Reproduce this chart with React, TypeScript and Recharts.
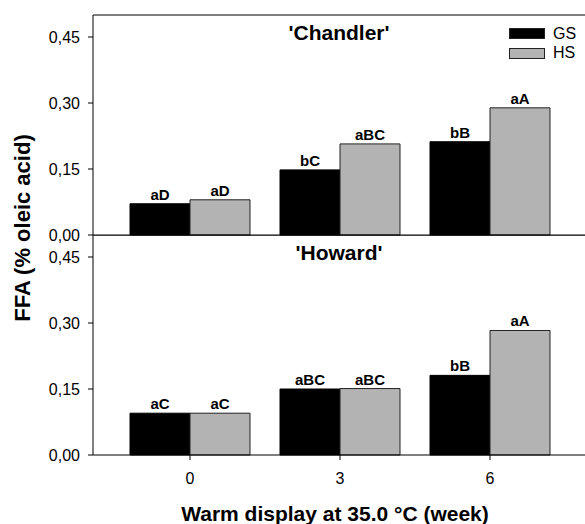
import {
  BarChart,
  Bar,
  XAxis,
  YAxis,
  LabelList,
  Legend,
  ReferenceLine,
} from "recharts";

const weeks = ["0", "3", "6"];
const chandlerGS = [0.071, 0.148, 0.212];
const chandlerHS = [0.08, 0.207, 0.289];
const howardGS = [0.095, 0.15, 0.181];
const howardHS = [0.095, 0.151, 0.283];
const chandlerGSLetters = ["aD", "bC", "bB"];
const chandlerHSLetters = ["aD", "aBC", "aA"];
const howardGSLetters = ["aC", "aBC", "bB"];
const howardHSLetters = ["aC", "aBC", "aA"];
const yTicks = [0, 0.15, 0.3, 0.45];

const FONT = "Arial, 'Liberation Sans', sans-serif";
const GRAY = "#b3b3b3";

const chandlerData = weeks.map((w, i) => ({
  week: w,
  GS: chandlerGS[i],
  HS: chandlerHS[i],
  gsLetter: chandlerGSLetters[i],
  hsLetter: chandlerHSLetters[i],
}));

const howardData = weeks.map((w, i) => ({
  week: w,
  GS: howardGS[i],
  HS: howardHS[i],
  gsLetter: howardGSLetters[i],
  hsLetter: howardHSLetters[i],
}));

const fmt = (v: number) => v.toFixed(2).replace(".", ",");

const labelStyle = { fontSize: 15, fontWeight: 700, fontFamily: FONT, fill: "#000" };

function LegendBox() {
  const rows = [
    { name: "GS", fill: "#000" },
    { name: "HS", fill: GRAY },
  ];
  return (
    <div style={{ fontFamily: FONT, fontSize: 16, color: "#000" }}>
      {rows.map((r) => (
        <div key={r.name} style={{ display: "flex", alignItems: "center", height: 19.5 }}>
          <span
            style={{
              display: "inline-block",
              width: 34,
              height: 9,
              background: r.fill,
              border: "1px solid #222",
              marginRight: 8,
            }}
          />
          <span>{r.name}</span>
        </div>
      ))}
    </div>
  );
}

function Panel({
  data,
  title,
  bottom,
}: {
  data: typeof chandlerData;
  title: string;
  bottom: boolean;
}) {
  return (
    <BarChart
      width={585}
      height={bottom ? 289 : 255}
      data={data}
      margin={{ top: bottom ? 0 : 15, right: 0, bottom: 0, left: 0 }}
      barCategoryGap={15}
      barGap={0}
    >
      <XAxis
        dataKey="week"
        padding={{ left: 22, right: 20 }}
        axisLine={{ stroke: "#000" }}
        tick={bottom ? { fill: "#000", fontSize: 16, fontFamily: FONT } : false}
        tickLine={bottom ? { stroke: "#000" } : false}
        tickSize={5}
        tickMargin={13}
        height={bottom ? 69 : 20}
        label={
          bottom
            ? {
                value: "Warm display at 35.0 °C (week)",
                position: "insideBottom",
                offset: 3,
                dx: -4,
                style: { fontSize: 21, fontWeight: 700, fontFamily: FONT, fill: "#000" },
              }
            : undefined
        }
      />
      <YAxis
        width={93}
        domain={[0, 0.5]}
        ticks={yTicks}
        interval={0}
        tickFormatter={fmt}
        axisLine={{ stroke: "#000" }}
        tickLine={{ stroke: "#000" }}
        tickSize={5}
        tickMargin={8}
        tick={{ fill: "#000", fontSize: 16, fontFamily: FONT }}
      />
      <ReferenceLine
        y={0.5}
        stroke="#000"
        label={{
          value: title,
          position: "insideTop",
          offset: 10,
          style: { fontSize: 21, fontWeight: 700, fontFamily: FONT, fill: "#000" },
        }}
      />
      {!bottom && (
        <Legend
          layout="vertical"
          align="center"
          verticalAlign="middle"
          wrapperStyle={{ left: 509, top: 24, width: 80 }}
          content={() => <LegendBox />}
        />
      )}
      <Bar dataKey="GS" fill="#000" stroke="#000" strokeWidth={1} isAnimationActive={false}>
        <LabelList dataKey="gsLetter" position="top" offset={4} style={labelStyle} />
      </Bar>
      <Bar dataKey="HS" fill={GRAY} stroke="#222" strokeWidth={1} isAnimationActive={false}>
        <LabelList dataKey="hsLetter" position="top" offset={4} style={labelStyle} />
      </Bar>
    </BarChart>
  );
}

export default function App() {
  return (
    <div
      style={{
        position: "absolute",
        left: 0,
        top: 0,
        width: 585,
        height: 524,
        background: "#fff",
        overflow: "hidden",
      }}
    >
      <div style={{ position: "absolute", left: 0, top: 0 }}>
        <Panel data={chandlerData} title="'Chandler'" bottom={false} />
      </div>
      <div style={{ position: "absolute", left: 0, top: 235 }}>
        <Panel data={howardData} title="'Howard'" bottom={true} />
      </div>
      <div
        style={{
          position: "absolute",
          left: 23,
          top: 228,
          transform: "translate(-50%, -50%) rotate(-90deg)",
          whiteSpace: "nowrap",
          fontFamily: FONT,
          fontWeight: 700,
          fontSize: 22,
          color: "#000",
        }}
      >
        FFA (% oleic acid)
      </div>
    </div>
  );
}
